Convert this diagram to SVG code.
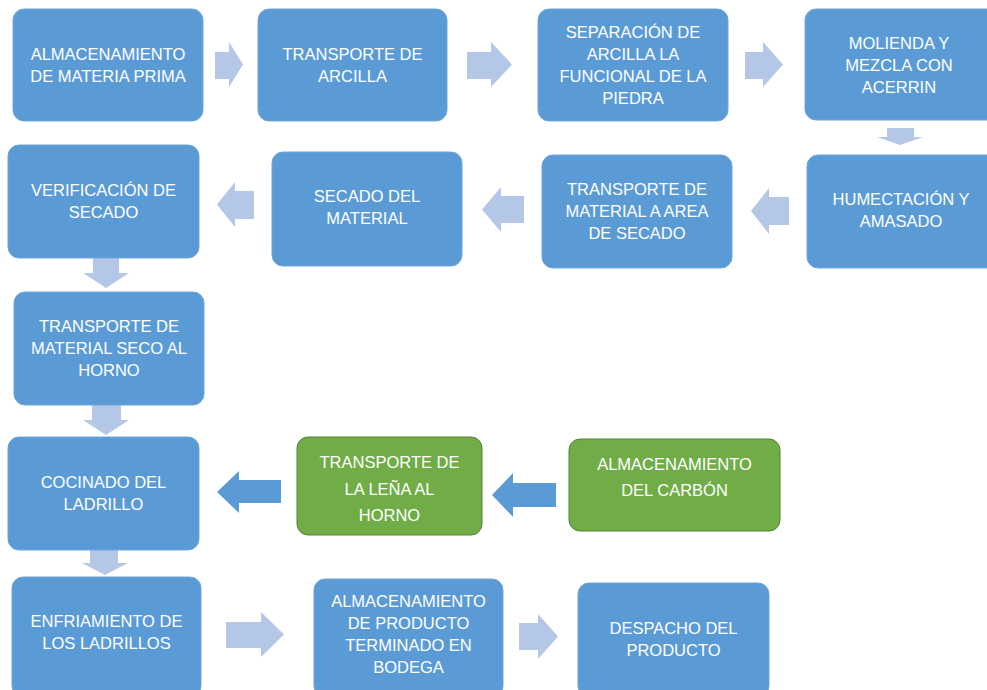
<svg xmlns="http://www.w3.org/2000/svg" width="987" height="690" viewBox="0 0 987 690">
<style>
.b{fill:#5B9BD5;stroke:#6FA6DA;stroke-width:1}
.g{fill:#70AD47;stroke:#548235;stroke-width:1}
.a{fill:#B4C7E7}
.d{fill:#5B9BD5}
text{font-family:"Liberation Sans",Arial,sans-serif;font-size:16.5px;fill:#FFFFFF;text-anchor:middle}
</style>
<rect width="987" height="690" fill="#FFFFFF"/>
<g id="connectors">
<polygon class="a" points="215,52 229,52 229,42 243,64.5 229,87 229,79 215,79"/>
<polygon class="a" points="467,52 491,52 491,42 512,64.5 491,87 491,79 467,79"/>
<polygon class="a" points="745,52 763,52 763,42 783,64.5 763,87 763,79 745,79"/>
<polygon class="a" points="887,128 914,128 914,137 923,137 900,145 877,137 887,137"/>
<polygon class="a" points="789,197 769,197 769,188 751,211 769,234 769,225 789,225"/>
<polygon class="a" points="524,196 501,196 501,187 482,209.5 501,232 501,223 524,223"/>
<polygon class="a" points="254,191 235,191 235,182 217,204.5 235,227 235,219 254,219"/>
<polygon class="a" points="93,258 119,258 119,273 129,273 106,288 83,273 93,273"/>
<polygon class="a" points="92,402 121,402 121,420 129,420 106,435 83,420 92,420"/>
<polygon class="a" points="90,548 118,548 118,563 128,563 105,575 82,563 90,563"/>
<polygon class="d" points="556,483 513,483 513,473 492,495 513,517 513,507 556,507"/>
<polygon class="d" points="281,480 239,480 239,471 217,492 239,513 239,503 281,503"/>
<polygon class="a" points="226,622 261,622 261,612 284,634.5 261,657 261,648 226,648"/>
<polygon class="a" points="519,623 538,623 538,614 558,636.5 538,659 538,650 519,650"/>
</g>
<g id="n1"><rect class="b" x="13" y="9" width="190" height="112" rx="11"/><text x="108" y="60">ALMACENAMIENTO</text><text x="108" y="82">DE MATERIA PRIMA</text></g>
<g id="n2"><rect class="b" x="258" y="9" width="189" height="112" rx="11"/><text x="352.5" y="60">TRANSPORTE DE</text><text x="352.5" y="82">ARCILLA</text></g>
<g id="n3"><rect class="b" x="538" y="9" width="190" height="112" rx="11"/><text x="633" y="38">SEPARACIÓN DE</text><text x="633" y="60">ARCILLA LA</text><text x="633" y="82">FUNCIONAL DE LA</text><text x="633" y="104">PIEDRA</text></g>
<g id="n4"><rect class="b" x="805" y="9" width="200" height="111" rx="11"/><text x="899" y="49">MOLIENDA Y</text><text x="899" y="71">MEZCLA CON</text><text x="899" y="93">ACERRIN</text></g>
<g id="n5"><rect class="b" x="807" y="155" width="200" height="113" rx="11"/><text x="901" y="205">HUMECTACIÓN Y</text><text x="901" y="227">AMASADO</text></g>
<g id="n6"><rect class="b" x="542" y="155" width="190" height="113" rx="11"/><text x="637" y="195">TRANSPORTE DE</text><text x="637" y="217">MATERIAL A AREA</text><text x="637" y="239">DE SECADO</text></g>
<g id="n7"><rect class="b" x="272" y="152" width="190" height="114" rx="11"/><text x="367" y="202">SECADO DEL</text><text x="367" y="224">MATERIAL</text></g>
<g id="n8"><rect class="b" x="8" y="145" width="191" height="113" rx="11"/><text x="103.5" y="196">VERIFICACIÓN DE</text><text x="103.5" y="218">SECADO</text></g>
<g id="n9"><rect class="b" x="14" y="292" width="190" height="113" rx="11"/><text x="109" y="332">TRANSPORTE DE</text><text x="109" y="354">MATERIAL SECO AL</text><text x="109" y="376">HORNO</text></g>
<g id="n10"><rect class="b" x="8" y="437" width="191" height="113" rx="11"/><text x="103.5" y="488">COCINADO DEL</text><text x="103.5" y="510">LADRILLO</text></g>
<g id="n11"><rect class="g" x="297" y="437" width="185" height="98" rx="11"/><text x="389.5" y="468">TRANSPORTE DE</text><text x="389.5" y="495">LA LEÑA AL</text><text x="389.5" y="521">HORNO</text></g>
<g id="n12"><rect class="g" x="569" y="439" width="211" height="92" rx="11"/><text x="674.5" y="470">ALMACENAMIENTO</text><text x="674.5" y="496">DEL CARBÓN</text></g>
<g id="n13"><rect class="b" x="12" y="577" width="189" height="120" rx="11"/><text x="106.5" y="627">ENFRIAMIENTO DE</text><text x="106.5" y="649">LOS LADRILLOS</text></g>
<g id="n14"><rect class="b" x="314" y="579" width="189" height="118" rx="11"/><text x="408.5" y="607">ALMACENAMIENTO</text><text x="408.5" y="629">DE PRODUCTO</text><text x="408.5" y="651">TERMINADO EN</text><text x="408.5" y="673">BODEGA</text></g>
<g id="n15"><rect class="b" x="578" y="583" width="191" height="114" rx="11"/><text x="673.5" y="634">DESPACHO DEL</text><text x="673.5" y="656">PRODUCTO</text></g>
</svg>
